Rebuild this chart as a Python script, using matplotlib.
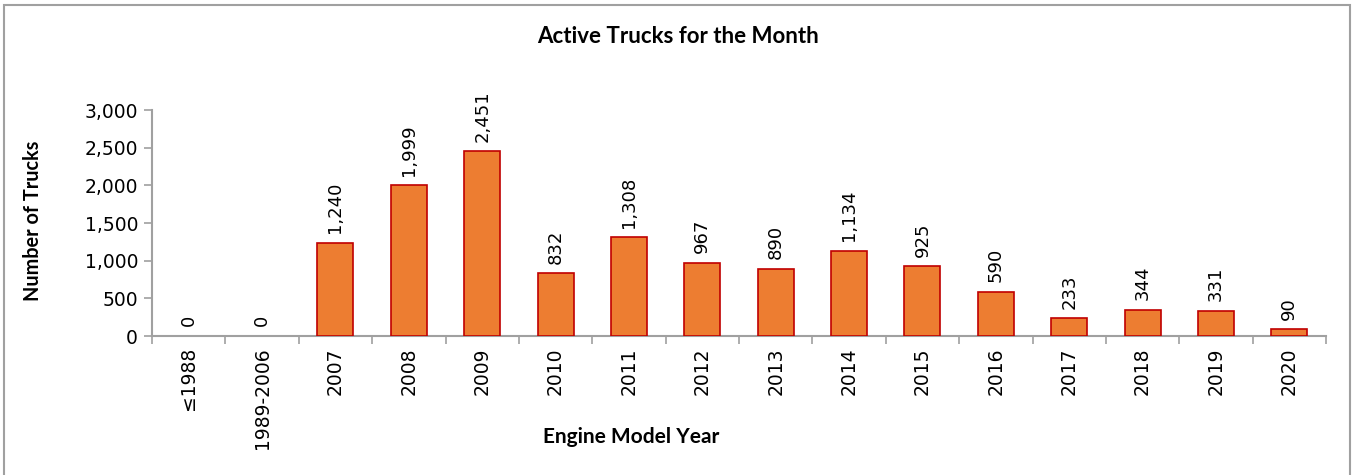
import numpy as np
import matplotlib.pyplot as plt
from matplotlib.patches import Rectangle

years = ['≤1988', '1989-2006', '2007', '2008', '2009', '2010', '2011', '2012',
         '2013', '2014', '2015', '2016', '2017', '2018', '2019', '2020']
trucks = [0, 0, 1240, 1999, 2451, 832, 1308, 967, 890, 1134, 925, 590, 233, 344, 331, 90]

fig = plt.figure(figsize=(13.56, 4.75), dpi=100)
ax = fig.add_axes([0.1121, 0.2926, 0.8658, 0.4758])

x = np.arange(len(years))
# no outline on empty categories
lw = [1.2 if v > 0 else 0 for v in trucks]
ax.bar(x, trucks, width=0.49, color='#ED7D31', edgecolor='#C00000', linewidth=lw, zorder=3)

for xi, v in zip(x, trucks):
    ax.annotate(f'{v:,}', (xi, v), xytext=(0, 7), textcoords='offset points',
                rotation=90, ha='center', va='bottom', fontsize=13, color='#000000')

ax.set_xlim(-0.5, len(years) - 0.5)
ax.set_ylim(0, 3000)
ax.set_yticks(np.arange(0, 3001, 500))
ax.set_yticklabels([f'{t:,}' for t in range(0, 3001, 500)], fontsize=13.5)

# category labels centred, tick marks between categories
ax.set_xticks(x)
ax.set_xticklabels(years, rotation=90, fontsize=13.5)
ax.tick_params(axis='x', length=0, pad=8)
ax.set_xticks(np.arange(-0.5, len(years)), minor=True)
ax.tick_params(axis='x', which='minor', length=6, color='#A0A0A0', width=1.2)
ax.tick_params(axis='y', length=6, color='#A0A0A0', width=1.2, pad=4)

for s in ['top', 'right']:
    ax.spines[s].set_visible(False)
for s in ['left', 'bottom']:
    ax.spines[s].set_color('#A0A0A0')
    ax.spines[s].set_linewidth(1.5)

fig.text(0.5, 0.924, 'Active Trucks for the Month', ha='center', va='center',
         fontsize=16, fontweight='bold', family='Lato')
fig.text(0.4653, 0.08, 'Engine Model Year', ha='center', va='center',
         fontsize=15, fontweight='bold', family='Lato')
fig.text(0.0245, 0.535, 'Number of Trucks', ha='center', va='center', rotation=90,
         fontsize=14.3, fontweight='bold', family='Lato')

# outer frame
fig.patches.append(Rectangle((0.003, -0.01), 0.9925, 1.0, transform=fig.transFigure,
                             fill=False, edgecolor='#A0A0A0', linewidth=1.5))

plt.savefig('out.png', dpi=100)
